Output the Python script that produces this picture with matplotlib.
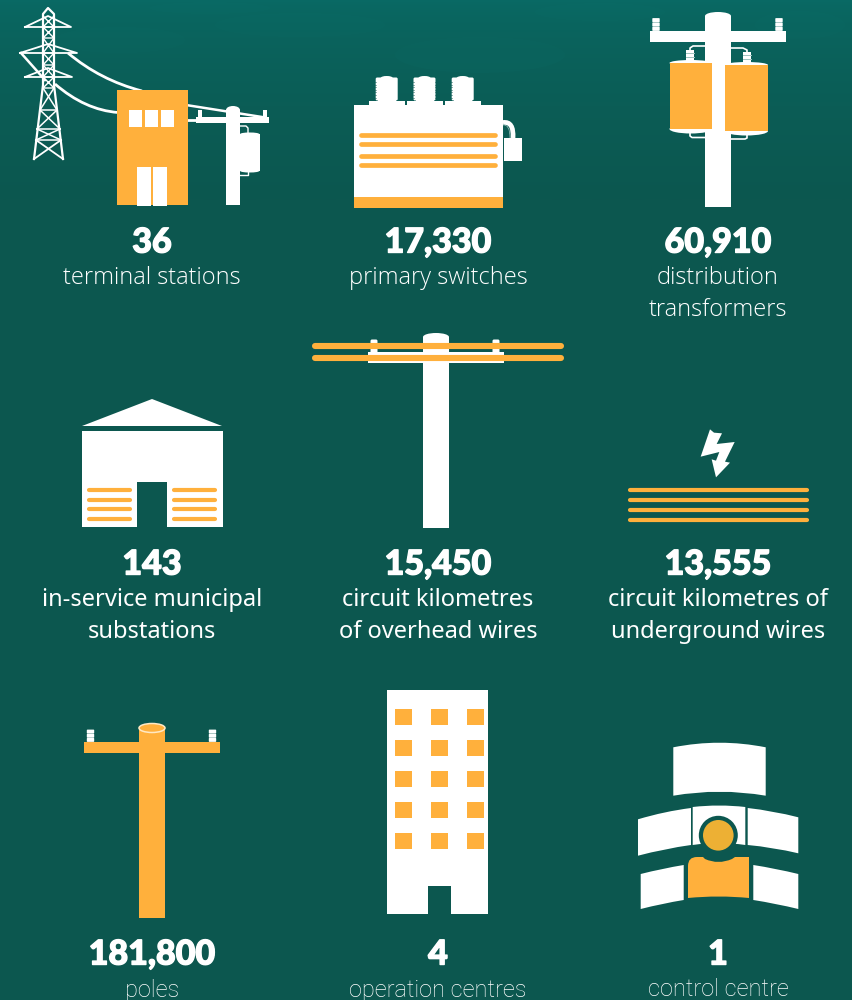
import numpy as np
import matplotlib
matplotlib.use("Agg")
import matplotlib.pyplot as plt
import matplotlib.patheffects as pe
from matplotlib.patches import Rectangle, Polygon, Ellipse, Circle, FancyBboxPatch, PathPatch
from matplotlib.path import Path

counts = ["36", "17,330", "60,910", "143", "15,450", "13,555", "181,800", "4", "1"]
labels = ["terminal stations", "primary switches", "distribution\ntransformers",
          "in-service municipal\nsubstations", "circuit kilometres\nof overhead wires",
          "circuit kilometres of\nunderground wires", "poles", "operation centres", "control centre"]
col_x = [152, 438, 718]
row_y = [240, 562, 952]

BG = "#0c574f"
ORANGE = "#ffb03c"
WHITE = "#ffffff"

fig = plt.figure(figsize=(8.52, 10), dpi=100)
ax = fig.add_axes([0, 0, 1, 1])
ax.set_xlim(0, 852)
ax.set_ylim(1000, 0)
ax.axis("off")
fig.patch.set_facecolor(BG)

# teal haze at the top
top = np.array([9, 106, 101]) / 255
bot = np.array([12, 87, 79]) / 255
t = np.clip(np.linspace(0, 1, 200) ** 0.6, 0, 1)[:, None, None]
grad = top * (1 - t) + bot * t
ax.imshow(grad, extent=(0, 852, 200, 0), aspect="auto", zorder=0, interpolation="bilinear")
ax.set_xlim(0, 852)
ax.set_ylim(1000, 0)
for cx, cy, w, h in [(120, 40, 130, 26), (300, 25, 170, 24), (480, 55, 170, 36),
                     (600, 12, 130, 18), (210, 8, 120, 12), (800, 25, 90, 28)]:
    ax.add_patch(Ellipse((cx, cy), w, h, color="#0f7a74", alpha=0.08, lw=0, zorder=0.5))


def rect(x0, y0, x1, y1, c=WHITE, z=2):
    ax.add_patch(Rectangle((x0, y0), x1 - x0, y1 - y0, fc=c, ec="none", zorder=z))


def hline(x0, x1, y, lw, c=ORANGE, z=3):
    ax.plot([x0, x1], [y, y], color=c, lw=lw, solid_capstyle="round", zorder=z)


def curve(pts, lw=1.5, c=WHITE, z=2):
    codes = [Path.MOVETO] + [Path.CURVE3] * (len(pts) - 1)
    ax.add_patch(PathPatch(Path(pts, codes), fc="none", ec=c, lw=lw, zorder=z))


def insulator(x, y0, y1, w=8):
    n = 3
    h = (y1 - y0) / n
    for i in range(n):
        ax.add_patch(FancyBboxPatch((x - w / 2 + 1, y0 + i * h + 0.8), w - 2, h - 1.6,
                                    boxstyle="round,pad=0.7", fc=WHITE, ec="none", zorder=2))


def pole(x0, x1, y0, y1, c=WHITE):
    rect(x0, y0 + 4, x1, y1, c)
    ax.add_patch(Ellipse(((x0 + x1) / 2, y0 + 4), x1 - x0, 8, fc=c, ec="none", zorder=2))


def panel(l, r, yl_top, yr_top, ypk_top, yl_bot, yr_bot, ypk_bot, c=WHITE, z=2):
    mid = (l + r) / 2
    verts = [(l, yl_top), (mid, 2 * ypk_top - (yl_top + yr_top) / 2), (r, yr_top),
             (r, yr_bot), (mid, 2 * ypk_bot - (yl_bot + yr_bot) / 2), (l, yl_bot), (l, yl_top)]
    codes = [Path.MOVETO, Path.CURVE3, Path.CURVE3, Path.LINETO, Path.CURVE3, Path.CURVE3, Path.CLOSEPOLY]
    ax.add_patch(PathPatch(Path(verts, codes), fc=c, ec="none", zorder=z))


# terminal station: tower
lw = 1.3
ax.plot([34, 43, 43, 48, 54, 54, 63], [159, 85, 14, 8, 14, 85, 159], color=WHITE, lw=lw + 0.3, zorder=2)
for xl, xr, ya, yt in [(25, 71, 27, 16), (20, 77, 53, 44), (25, 72, 77, 68)]:
    ax.plot([xl, xr, 48, xl], [ya, ya, yt, ya], color=WHITE, lw=lw, zorder=2)
ax.plot([21, 45], [53, 80], color=WHITE, lw=1.8, zorder=2)
ys = [16, 27, 38, 53, 65, 77, 88]
for a, b in zip(ys[:-1], ys[1:]):
    ax.plot([43, 54, 43, 54], [a, b, b, a], color=WHITE, lw=1.0, zorder=2)
band = [(110, 40, 57), (129, 37, 60), (140, 36, 61)]
py, pl, pr = 88, 43, 54
for y, l, r in band:
    ax.plot([pl, r], [py, y], color=WHITE, lw=1.1, zorder=2)
    ax.plot([pr, l], [py, y], color=WHITE, lw=1.1, zorder=2)
    ax.plot([l, r], [y, y], color=WHITE, lw=1.1, zorder=2)
    py, pl, pr = y, l, r
ax.plot([36, 63], [140, 159], color=WHITE, lw=1.3, zorder=2)
ax.plot([61, 34], [140, 159], color=WHITE, lw=1.3, zorder=2)
# wires
curve([(68, 53), (100, 80), (142, 91)], lw=2)
ax.plot([186, 262], [105, 117], color=WHITE, lw=1.8, zorder=2)
curve([(55, 84), (85, 110), (118, 112.5)], lw=2)
ax.plot([186, 200], [120, 120], color=WHITE, lw=2, zorder=2)
# building
rect(117, 90, 188, 205, ORANGE, 3)
for x0 in [129, 145, 161]:
    rect(x0, 110, x0 + 13, 127, WHITE, 4)
rect(137, 167, 151, 206, WHITE, 4)
rect(153, 167, 167, 206, WHITE, 4)
# pole
pole(226, 240, 106, 205)
rect(196, 117, 269, 123)
rect(198, 110, 202, 117)
rect(263, 110, 267, 117)
rect(240, 134, 259.5, 171)
ax.add_patch(Ellipse((249.7, 134), 19, 3, fc=WHITE, ec="none", zorder=2))
ax.add_patch(Ellipse((249.7, 171), 19, 3, fc=WHITE, ec="none", zorder=2))
ax.plot([240, 246, 248, 248], [126, 126, 128, 134], color=WHITE, lw=1, zorder=2)
ax.plot([240, 248, 248], [175, 175, 172], color=WHITE, lw=1, zorder=2)

# primary switch
rect(354, 105, 503, 208)
rect(354, 197, 503, 208, ORANGE, 3)
for y in [135.3, 144.3, 156, 165]:
    hline(361, 495, y, 3.4)
for x in [386.7, 424.5, 462.7]:
    rect(x - 18, 101, x + 18, 105)
    rect(x - 9, 98, x + 9, 102)
    ax.add_patch(FancyBboxPatch((x - 9.5, 79), 19, 20, boxstyle="round,pad=1.5",
                                fc=WHITE, ec="none", zorder=2))
    ax.add_patch(Ellipse((x, 78), 12, 4, fc=WHITE, ec="none", zorder=2))
    for y in np.arange(82, 100, 2.6):
        ax.plot([x - 11.6, x - 10.8], [y, y], color=BG, lw=0.4, zorder=3)
        ax.plot([x + 10.8, x + 11.6], [y, y], color=BG, lw=0.4, zorder=3)
rect(504, 138, 522, 161)
curve([(503, 122.5), (514, 121), (513, 138)], lw=3.4)
curve([(503, 125), (510, 124), (510, 138)], lw=0.5, c="#9fc4bf", z=3)

# distribution transformer
pole(705, 731, 12, 207)
rect(650, 31, 786, 42)
insulator(656, 18, 31)
insulator(779, 18, 31)
for l, r, y0, y1, bx in [(669.5, 712, 63, 129, 690), (725, 768, 65, 131, 747)]:
    ax.add_patch(Ellipse(((l + r) / 2, y0), r - l, 6, fc=WHITE, ec="none", zorder=2))
    ax.add_patch(Ellipse(((l + r) / 2, y1), r - l, 9, fc=WHITE, ec="none", zorder=2))
    rect(l, y0, r, y1, ORANGE, 3)
    rect(bx - 4, y0 - 13, bx + 4, y0 - 2)
    for y in [y0 - 10, y0 - 6]:
        ax.plot([bx - 4, bx + 4], [y, y], color="#9fc4bf", lw=0.7, zorder=3)
ax.plot([690, 690, 693, 705], [50, 48, 46, 46], color=WHITE, lw=1.2, zorder=2)
ax.plot([731, 743, 747, 747], [48, 48, 50, 53], color=WHITE, lw=1.2, zorder=2)
ax.plot([690, 690, 692, 705], [132, 136, 137.5, 137.5], color=WHITE, lw=1.2, zorder=2)
ax.plot([731, 745, 747, 747], [139, 139, 138, 134], color=WHITE, lw=1.2, zorder=2)

# municipal substation
ax.add_patch(Polygon([(82, 426), (152, 399), (222, 426)], fc=WHITE, ec="none", zorder=2))
rect(82, 431, 223, 527)
rect(137, 482, 167, 528, BG, 3)
for y in [490, 499.5, 509, 518.5]:
    hline(89, 130, y, 3)
    hline(174, 215, y, 3)

# overhead wires
pole(423, 449, 333, 528)
rect(368, 352, 504, 362.5)
ax.add_patch(FancyBboxPatch((372, 341), 4, 11, boxstyle="round,pad=1.5", fc=WHITE, ec="none", zorder=2))
ax.add_patch(FancyBboxPatch((494, 341), 4, 11, boxstyle="round,pad=1.5", fc=WHITE, ec="none", zorder=2))
hline(315, 561, 345.7, 4.4)
hline(315, 561, 358, 4.4)

# underground wires
for y in [490, 500, 510, 519.5]:
    hline(629.5, 807, y, 3)
bolt = np.array([(60, 28), (72, 38), (96, 40), (80, 72), (134, 66), (105, 125), (120, 128),
                 (78, 172), (65, 118), (78, 122), (88, 96), (32, 110)]) / 3 + [690, 420]
ax.add_patch(Polygon(bolt, fc=WHITE, ec="none", zorder=2))

# poles
rect(139, 728, 165, 918, ORANGE)
rect(84, 742, 220, 753, ORANGE)
ax.add_patch(Ellipse((152, 728), 26, 9, fc=ORANGE, ec="#ffe9c4", lw=1.1, zorder=3))
for x in [90.5, 212.5]:
    insulator(x, 729.5, 742)

# operation centres
rect(387, 690, 488, 914)
rect(428, 886, 451, 915, BG, 3)
for y in [709, 740, 771, 802, 833]:
    for x in [395, 431, 467]:
        rect(x, y, x + 17, y + 16, ORANGE, 3)

# control centre
panel(673.3, 765.7, 747.3, 747.3, 742.7, 795.7, 795.7, 791.7)
panel(638, 691, 819.3, 808, 812.5, 855.7, 845, 849.5)
panel(692.7, 745.3, 807, 807, 805.5, 845, 845, 843)
panel(747.7, 798.3, 808, 817.3, 811.7, 845, 853.3, 848.2)
panel(640.7, 683.7, 874, 865, 869, 909, 900, 904)
panel(753.3, 798.3, 865, 874, 869, 900, 909, 904)
ax.add_patch(Circle((718.3, 835.3), 19.5, fc=BG, ec="none", zorder=3))
ax.add_patch(Circle((718.3, 835.3), 15.3, fc="#edb034", ec="none", zorder=4))
body = [(688, 898), (688, 866), (688, 857), (697, 857), (703, 857), (705, 859),
        (718.3, 865), (732, 859), (735, 857), (740, 857), (749, 857), (749, 866),
        (749, 898), (718.5, 895), (688, 898), (688, 898)]
codes = [Path.MOVETO, Path.LINETO, Path.CURVE3, Path.CURVE3, Path.LINETO, Path.LINETO,
         Path.CURVE3, Path.CURVE3, Path.LINETO, Path.CURVE3, Path.CURVE3, Path.LINETO,
         Path.LINETO, Path.CURVE3, Path.CURVE3, Path.CLOSEPOLY]
body.insert(9, (740, 857))
codes.insert(9, Path.LINETO)
body[10] = (749, 857)
body[11] = (749, 857)
body = body[:10] + [(749, 857)] + body[11:]
codes = codes
ax.add_patch(PathPatch(Path(body, codes), fc=ORANGE, ec="none", zorder=4))

# text
fonts = ["Open Sans", "Noto Sans", "Roboto"]
for i, (n, lab) in enumerate(zip(counts, labels)):
    x = col_x[i % 3]
    y = row_y[i // 3]
    ax.text(x, y + 2.5, n, ha="center", va="center", color=WHITE, fontsize=24.5,
            family="Lato", weight="black", zorder=6,
            path_effects=[pe.withStroke(linewidth=1.0, foreground=WHITE)])
    for k, line in enumerate(lab.split("\n")):
        ax.text(x, y + 38 + 32 * k, line, ha="center", va="center", color=WHITE, fontsize=17,
                family=fonts[i // 3], weight="light", zorder=6)

fig.savefig("out.png", dpi=100, facecolor=BG)
